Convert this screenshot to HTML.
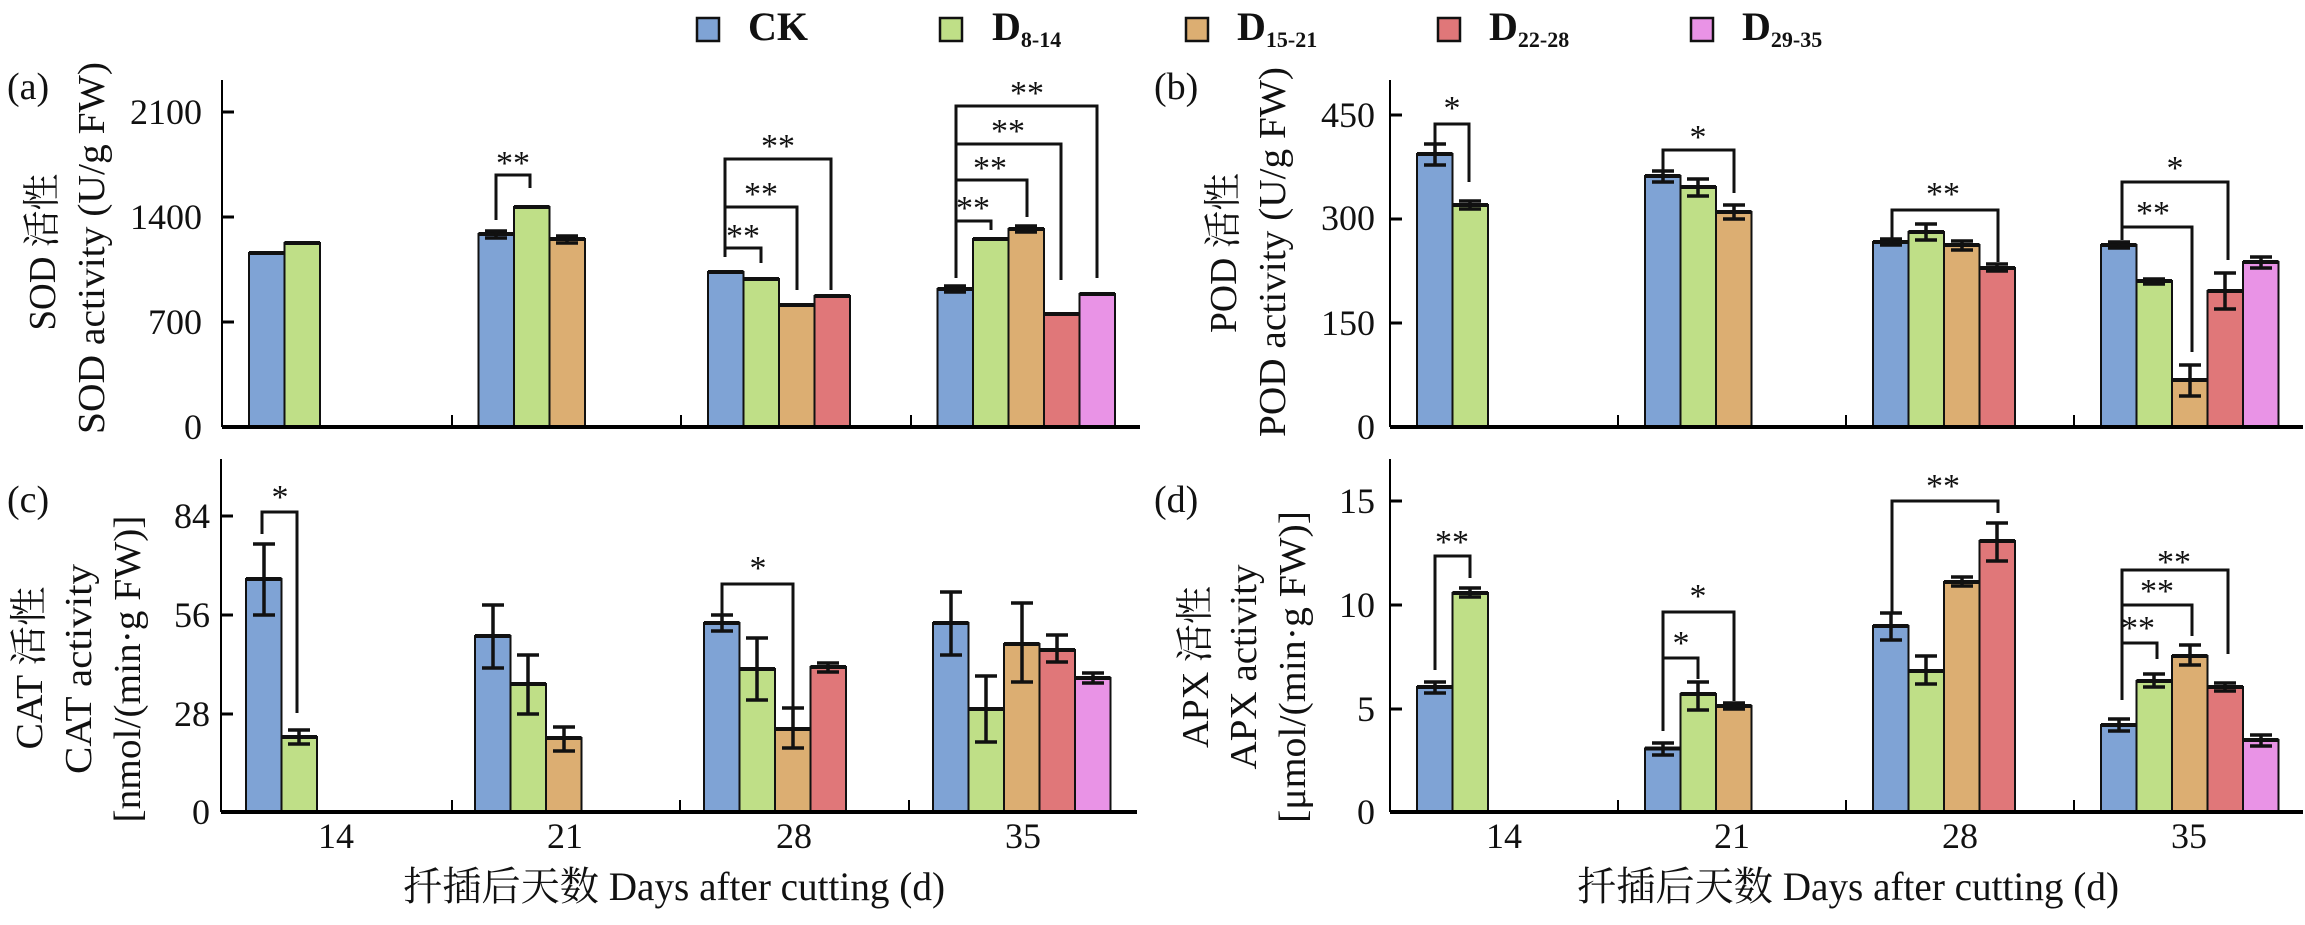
<!DOCTYPE html>
<html><head><meta charset="utf-8"><style>
html,body{margin:0;padding:0;background:#fff;}
svg{display:block;}
text{font-family:"Liberation Serif","Noto Serif CJK SC","Noto Sans CJK SC",serif;fill:#111;}
.t{font-size:38px;font-weight:normal;}
.s{font-size:36px;font-weight:normal;}
.ax{stroke:#000;fill:none;}
.bar{stroke:#111;stroke-width:2;}
.top{stroke:#111;stroke-width:4;}
.err{stroke:#111;stroke-width:3.5;fill:none;}
.br{stroke:#111;stroke-width:3;fill:none;}
</style></head><body>
<svg width="2305" height="925" viewBox="0 0 2305 925" xmlns="http://www.w3.org/2000/svg">
<!-- Legend -->
<g>
<rect x="697" y="18" width="22" height="23" fill="#7fa3d5" stroke="#111" stroke-width="2.5"/>
<text x="748" y="40" font-size="40" font-weight="bold">CK</text>
<rect x="940" y="18" width="22" height="23" fill="#bfdf87" stroke="#111" stroke-width="2.5"/>
<text x="992" y="40" font-size="40" font-weight="bold">D<tspan font-size="22" dy="7">8-14</tspan></text>
<rect x="1186" y="18" width="22" height="23" fill="#dcae72" stroke="#111" stroke-width="2.5"/>
<text x="1237" y="40" font-size="40" font-weight="bold">D<tspan font-size="22" dy="7">15-21</tspan></text>
<rect x="1438" y="18" width="22" height="23" fill="#e07779" stroke="#111" stroke-width="2.5"/>
<text x="1489" y="40" font-size="40" font-weight="bold">D<tspan font-size="22" dy="7">22-28</tspan></text>
<rect x="1691" y="18" width="22" height="23" fill="#e993e6" stroke="#111" stroke-width="2.5"/>
<text x="1742" y="40" font-size="40" font-weight="bold">D<tspan font-size="22" dy="7">29-35</tspan></text>
</g>

<!-- ============ Panel a ============ -->
<g>
<text x="7" y="99" class="t">(a)</text>
<text transform="translate(55,252) rotate(-90)" text-anchor="middle" class="t" textLength="157" lengthAdjust="spacingAndGlyphs">SOD 活性</text>
<text transform="translate(104,248) rotate(-90)" text-anchor="middle" class="t" textLength="372" lengthAdjust="spacingAndGlyphs">SOD activity (U/g FW)</text>
<g class="s" text-anchor="end">
<text x="202" y="124">2100</text><text x="202" y="229">1400</text><text x="202" y="334">700</text><text x="202" y="439">0</text>
</g>
<path class="ax" stroke-width="2" d="M222,80 V427"/>
<path class="ax" stroke-width="3" d="M222,112 h12 M222,217 h12 M222,322 h12"/>
<path class="ax" stroke-width="2" d="M452,427 v-12 M681,427 v-12 M911,427 v-12"/>
<rect class="bar" x="249" y="253" width="35.5" height="174" fill="#7fa3d5"/>
<rect class="bar" x="284.5" y="243" width="35.5" height="184" fill="#bfdf87"/>
<rect class="bar" x="478.5" y="234" width="35.5" height="193" fill="#7fa3d5"/>
<rect class="bar" x="514" y="207" width="35.5" height="220" fill="#bfdf87"/>
<rect class="bar" x="549.5" y="239" width="35.5" height="188" fill="#dcae72"/>
<rect class="bar" x="708" y="272" width="35.5" height="155" fill="#7fa3d5"/>
<rect class="bar" x="743.5" y="279" width="35.5" height="148" fill="#bfdf87"/>
<rect class="bar" x="779" y="305" width="35.5" height="122" fill="#dcae72"/>
<rect class="bar" x="814.5" y="296" width="35.5" height="131" fill="#e07779"/>
<rect class="bar" x="937.5" y="289" width="35.5" height="138" fill="#7fa3d5"/>
<rect class="bar" x="973" y="239" width="35.5" height="188" fill="#bfdf87"/>
<rect class="bar" x="1008.5" y="229" width="35.5" height="198" fill="#dcae72"/>
<rect class="bar" x="1044" y="314" width="35.5" height="113" fill="#e07779"/>
<rect class="bar" x="1079.5" y="294" width="35.5" height="133" fill="#e993e6"/>
<path class="top" d="M249,253h35.5M284.5,243h35.5M478.5,234h35.5M514,207h35.5M549.5,239h35.5M708,272h35.5M743.5,279h35.5M779,305h35.5M814.5,296h35.5M937.5,289h35.5M973,239h35.5M1008.5,229h35.5M1044,314h35.5M1079.5,294h35.5"/>
<path class="err" d="M485,231h22M496,231V238M485,238h22 M556,236h22M567,236V243M556,243h22 M944,286h22M955,286V292M944,292h22 M1015,226h22M1026,226V232M1015,232h22"/>
<path class="ax" stroke-width="4" d="M222,427 H1140"/>
<path class="br" d="M496,220V175H530V188"/>
<path class="br" d="M725,257V159H831V290 M725,248H761V263 M725,207H797V290"/>
<path class="br" d="M956,278V106H1097V278 M956,221H991V230 M956,180H1027V217 M956,144H1061V280"/>
<g font-size="34" text-anchor="middle">
<text x="513" y="174">**</text>
<text x="743" y="247">**</text><text x="761" y="205">**</text><text x="778" y="157">**</text>
<text x="973" y="219">**</text><text x="990" y="179">**</text><text x="1008" y="142">**</text><text x="1027" y="104">**</text>
</g>
</g>

<!-- ============ Panel b ============ -->
<g>
<text x="1154" y="99" class="t">(b)</text>
<text transform="translate(1236,253) rotate(-90)" text-anchor="middle" class="t" textLength="160" lengthAdjust="spacingAndGlyphs">POD 活性</text>
<text transform="translate(1285,252) rotate(-90)" text-anchor="middle" class="t" textLength="370" lengthAdjust="spacingAndGlyphs">POD activity (U/g FW)</text>
<g class="s" text-anchor="end">
<text x="1375" y="127">450</text><text x="1375" y="230">300</text><text x="1375" y="335">150</text><text x="1375" y="439">0</text>
</g>
<path class="ax" stroke-width="2" d="M1390,80 V427"/>
<path class="ax" stroke-width="3" d="M1390,115 h12 M1390,219 h12 M1390,323 h12"/>
<path class="ax" stroke-width="2" d="M1618,427 v-12 M1846,427 v-12 M2074,427 v-12"/>
<rect class="bar" x="1417" y="154" width="35.5" height="273" fill="#7fa3d5"/>
<rect class="bar" x="1452.5" y="205" width="35.5" height="222" fill="#bfdf87"/>
<rect class="bar" x="1645" y="176" width="35.5" height="251" fill="#7fa3d5"/>
<rect class="bar" x="1680.5" y="187" width="35.5" height="240" fill="#bfdf87"/>
<rect class="bar" x="1716" y="212" width="35.5" height="215" fill="#dcae72"/>
<rect class="bar" x="1873" y="242" width="35.5" height="185" fill="#7fa3d5"/>
<rect class="bar" x="1908.5" y="232" width="35.5" height="195" fill="#bfdf87"/>
<rect class="bar" x="1944" y="245" width="35.5" height="182" fill="#dcae72"/>
<rect class="bar" x="1979.5" y="268" width="35.5" height="159" fill="#e07779"/>
<rect class="bar" x="2101" y="245" width="35.5" height="182" fill="#7fa3d5"/>
<rect class="bar" x="2136.5" y="281" width="35.5" height="146" fill="#bfdf87"/>
<rect class="bar" x="2172" y="380" width="35.5" height="47" fill="#dcae72"/>
<rect class="bar" x="2207.5" y="291" width="35.5" height="136" fill="#e07779"/>
<rect class="bar" x="2243" y="262" width="35.5" height="165" fill="#e993e6"/>
<path class="top" d="M1417,154h35.5M1452.5,205h35.5M1645,176h35.5M1680.5,187h35.5M1716,212h35.5M1873,242h35.5M1908.5,232h35.5M1944,245h35.5M1979.5,268h35.5M2101,245h35.5M2136.5,281h35.5M2172,380h35.5M2207.5,291h35.5M2243,262h35.5"/>
<path class="err" d="M1424,144h22M1435,144V165M1424,165h22 M1459,201h22M1470,201V209M1459,209h22
M1652,171h22M1663,171V182M1652,182h22 M1687,179h22M1698,179V196M1687,196h22 M1723,205h22M1734,205V219M1723,219h22
M1880,239h22M1891,239V245M1880,245h22 M1915,224h22M1926,224V240M1915,240h22 M1951,241h22M1962,241V250M1951,250h22 M1986,264h22M1997,264V271M1986,271h22
M2108,242h22M2119,242V248M2108,248h22 M2143,279h22M2154,279V284M2143,284h22 M2179,365h22M2190,365V396M2179,396h22 M2214,273h22M2225,273V309M2214,309h22 M2250,257h22M2261,257V268M2250,268h22"/>
<path class="ax" stroke-width="4" d="M1390,427 H2303"/>
<path class="br" d="M1435,143V124H1469V182 M1663,170V150H1734V193 M1892,238V210H1998V262 M2122,240V182H2228V260 M2122,227H2192V352"/>
<g font-size="34" text-anchor="middle">
<text x="1452" y="119">*</text><text x="1698" y="148">*</text><text x="1943" y="205">**</text><text x="2153" y="224">**</text><text x="2175" y="179">*</text>
</g>
</g>

<!-- ============ Panel c ============ -->
<g>
<text x="7" y="512" class="t">(c)</text>
<text transform="translate(42,668) rotate(-90)" text-anchor="middle" class="t" textLength="163" lengthAdjust="spacingAndGlyphs">CAT 活性</text>
<text transform="translate(91,669) rotate(-90)" text-anchor="middle" class="t" textLength="210" lengthAdjust="spacingAndGlyphs">CAT activity</text>
<text transform="translate(140,669) rotate(-90)" text-anchor="middle" class="t" textLength="307" lengthAdjust="spacingAndGlyphs">[nmol/(min·g FW)]</text>
<g class="s" text-anchor="end">
<text x="210" y="528">84</text><text x="210" y="627">56</text><text x="210" y="726">28</text><text x="210" y="824">0</text>
</g>
<path class="ax" stroke-width="2" d="M221,459 V812"/>
<path class="ax" stroke-width="3" d="M221,516 h12 M221,615 h12 M221,714 h12"/>
<path class="ax" stroke-width="2" d="M452,812 v-12 M680,812 v-12 M909,812 v-12"/>
<rect class="bar" x="246" y="579" width="35.5" height="233" fill="#7fa3d5"/>
<rect class="bar" x="281.5" y="737" width="35.5" height="75" fill="#bfdf87"/>
<rect class="bar" x="475" y="636" width="35.5" height="176" fill="#7fa3d5"/>
<rect class="bar" x="510.5" y="684" width="35.5" height="128" fill="#bfdf87"/>
<rect class="bar" x="546" y="738" width="35.5" height="74" fill="#dcae72"/>
<rect class="bar" x="704" y="623" width="35.5" height="189" fill="#7fa3d5"/>
<rect class="bar" x="739.5" y="669" width="35.5" height="143" fill="#bfdf87"/>
<rect class="bar" x="775" y="729" width="35.5" height="83" fill="#dcae72"/>
<rect class="bar" x="810.5" y="667" width="35.5" height="145" fill="#e07779"/>
<rect class="bar" x="933" y="623" width="35.5" height="189" fill="#7fa3d5"/>
<rect class="bar" x="968.5" y="709" width="35.5" height="103" fill="#bfdf87"/>
<rect class="bar" x="1004" y="644" width="35.5" height="168" fill="#dcae72"/>
<rect class="bar" x="1039.5" y="650" width="35.5" height="162" fill="#e07779"/>
<rect class="bar" x="1075" y="678" width="35.5" height="134" fill="#e993e6"/>
<path class="top" d="M246,579h35.5M281.5,737h35.5M475,636h35.5M510.5,684h35.5M546,738h35.5M704,623h35.5M739.5,669h35.5M775,729h35.5M810.5,667h35.5M933,623h35.5M968.5,709h35.5M1004,644h35.5M1039.5,650h35.5M1075,678h35.5"/>
<path class="err" d="M253,544h22M264,544V615M253,615h22 M288,730h22M299,730V744M288,744h22
M482,605h22M493,605V668M482,668h22 M517,655h22M528,655V714M517,714h22 M553,727h22M564,727V751M553,751h22
M711,615h22M722,615V631M711,631h22 M746,638h22M757,638V700M746,700h22 M782,708h22M793,708V748M782,748h22 M817,663h22M828,663V672M817,672h22
M940,592h22M951,592V655M940,655h22 M975,676h22M986,676V742M975,742h22 M1011,603h22M1022,603V682M1011,682h22 M1046,635h22M1057,635V662M1046,662h22 M1082,673h22M1093,673V683M1082,683h22"/>
<path class="ax" stroke-width="4" d="M221,812 H1137"/>
<path class="br" d="M262,534V512H297V713 M722,623V584H793V708"/>
<g font-size="34" text-anchor="middle">
<text x="280" y="508">*</text><text x="758" y="579">*</text>
</g>
<g class="s" text-anchor="middle">
<text x="336" y="848">14</text><text x="565" y="848">21</text><text x="794" y="848">28</text><text x="1023" y="848">35</text>
</g>
<text x="674" y="900" text-anchor="middle" font-size="40" textLength="542" lengthAdjust="spacingAndGlyphs">扦插后天数 Days after cutting (d)</text>
</g>

<!-- ============ Panel d ============ -->
<g>
<text x="1154" y="512" class="t">(d)</text>
<text transform="translate(1208,667) rotate(-90)" text-anchor="middle" class="t" textLength="162" lengthAdjust="spacingAndGlyphs">APX 活性</text>
<text transform="translate(1256,667) rotate(-90)" text-anchor="middle" class="t" textLength="205" lengthAdjust="spacingAndGlyphs">APX activity</text>
<text transform="translate(1305,667) rotate(-90)" text-anchor="middle" class="t" textLength="312" lengthAdjust="spacingAndGlyphs">[μmol/(min·g FW)]</text>
<g class="s" text-anchor="end">
<text x="1375" y="513">15</text><text x="1375" y="617">10</text><text x="1375" y="721">5</text><text x="1375" y="824">0</text>
</g>
<path class="ax" stroke-width="2" d="M1390,459 V812"/>
<path class="ax" stroke-width="3" d="M1390,501 h12 M1390,605 h12 M1390,709 h12"/>
<path class="ax" stroke-width="2" d="M1618,812 v-12 M1846,812 v-12 M2074,812 v-12"/>
<rect class="bar" x="1417" y="687" width="35.5" height="125" fill="#7fa3d5"/>
<rect class="bar" x="1452.5" y="593" width="35.5" height="219" fill="#bfdf87"/>
<rect class="bar" x="1645" y="748.5" width="35.5" height="63.5" fill="#7fa3d5"/>
<rect class="bar" x="1680.5" y="694" width="35.5" height="118" fill="#bfdf87"/>
<rect class="bar" x="1716" y="706" width="35.5" height="106" fill="#dcae72"/>
<rect class="bar" x="1873" y="626" width="35.5" height="186" fill="#7fa3d5"/>
<rect class="bar" x="1908.5" y="671" width="35.5" height="141" fill="#bfdf87"/>
<rect class="bar" x="1944" y="582" width="35.5" height="230" fill="#dcae72"/>
<rect class="bar" x="1979.5" y="541" width="35.5" height="271" fill="#e07779"/>
<rect class="bar" x="2101" y="725" width="35.5" height="87" fill="#7fa3d5"/>
<rect class="bar" x="2136.5" y="681" width="35.5" height="131" fill="#bfdf87"/>
<rect class="bar" x="2172" y="656" width="35.5" height="156" fill="#dcae72"/>
<rect class="bar" x="2207.5" y="687" width="35.5" height="125" fill="#e07779"/>
<rect class="bar" x="2243" y="740" width="35.5" height="72" fill="#e993e6"/>
<path class="top" d="M1417,687h35.5M1452.5,593h35.5M1645,748.5h35.5M1680.5,694h35.5M1716,706h35.5M1873,626h35.5M1908.5,671h35.5M1944,582h35.5M1979.5,541h35.5M2101,725h35.5M2136.5,681h35.5M2172,656h35.5M2207.5,687h35.5M2243,740h35.5"/>
<path class="err" d="M1424,682h22M1435,682V693M1424,693h22 M1459,588h22M1470,588V597M1459,597h22
M1652,743h22M1663,743V755M1652,755h22 M1687,682h22M1698,682V710M1687,710h22 M1723,703h22M1734,703V709M1723,709h22
M1880,613h22M1891,613V640M1880,640h22 M1915,656h22M1926,656V684M1915,684h22 M1951,577h22M1962,577V586M1951,586h22 M1986,523h22M1997,523V561M1986,561h22
M2108,719h22M2119,719V731M2108,731h22 M2143,674h22M2154,674V687M2143,687h22 M2179,645h22M2190,645V665M2179,665h22 M2214,683h22M2225,683V691M2214,691h22 M2250,735h22M2261,735V746M2250,746h22"/>
<path class="ax" stroke-width="4" d="M1390,812 H2303"/>
<path class="br" d="M1435,670V556H1470V578 M1663,731V612H1734V701 M1663,658H1698V679 M1892,613V501H1998V513 M2122,700V570H2228V654 M2122,643H2157V659 M2122,605H2192V636"/>
<g font-size="34" text-anchor="middle">
<text x="1452" y="553">**</text><text x="1698" y="607">*</text><text x="1681" y="654">*</text><text x="1943" y="497">**</text>
<text x="2138" y="639">**</text><text x="2157" y="602">**</text><text x="2174" y="573">**</text>
</g>
<g class="s" text-anchor="middle">
<text x="1504" y="848">14</text><text x="1732" y="848">21</text><text x="1960" y="848">28</text><text x="2189" y="848">35</text>
</g>
<text x="1848" y="900" text-anchor="middle" font-size="40" textLength="542" lengthAdjust="spacingAndGlyphs">扦插后天数 Days after cutting (d)</text>
</g>
</svg>
</body></html>
